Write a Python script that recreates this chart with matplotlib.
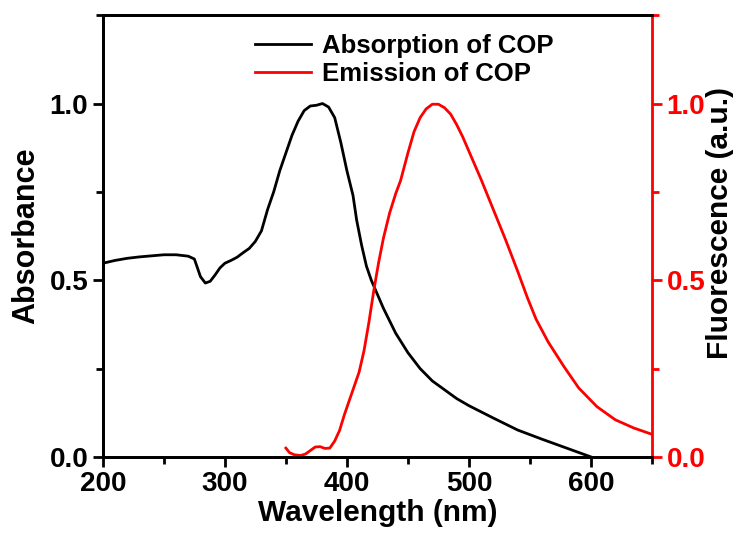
import matplotlib.pyplot as plt
from matplotlib.ticker import MultipleLocator

# absorption spectrum (black, left axis)
abs_wl = [200, 210, 220, 230, 240, 250, 260, 270, 275, 280, 284, 288, 292, 296,
          300, 305, 310, 315, 320, 325, 330, 335, 340, 345, 350, 355, 360, 365,
          370, 375, 380, 385, 390, 395, 400, 405, 408, 412, 416, 420, 425, 430,
          440, 450, 460, 470, 480, 490, 500, 520, 540, 560, 580, 600]
abs_val = [0.548, 0.556, 0.562, 0.566, 0.569, 0.572, 0.572, 0.568, 0.56, 0.51,
           0.492, 0.497, 0.515, 0.535, 0.548, 0.556, 0.565, 0.578, 0.59, 0.61,
           0.64, 0.70, 0.75, 0.81, 0.86, 0.91, 0.95, 0.98, 0.993, 0.995, 1.0,
           0.99, 0.96, 0.89, 0.81, 0.74, 0.67, 0.60, 0.54, 0.50, 0.46, 0.42,
           0.35, 0.295, 0.25, 0.215, 0.19, 0.165, 0.145, 0.11, 0.076, 0.05,
           0.025, 0.0]

# emission spectrum (red, right axis)
em_wl = [350, 353, 357, 362, 366, 370, 374, 378, 382, 386, 390, 394, 398, 403,
         406, 410, 414, 418, 422, 426, 430, 435, 440, 444, 450, 455, 460, 465,
         470, 475, 480, 485, 490, 495, 500, 510, 520, 530, 540, 548, 555, 565,
         578, 590, 605, 620, 635, 650]
em_val = [0.025, 0.012, 0.006, 0.004, 0.008, 0.018, 0.028, 0.029, 0.024, 0.025,
          0.045, 0.075, 0.12, 0.17, 0.20, 0.24, 0.30, 0.38, 0.47, 0.55, 0.62,
          0.69, 0.745, 0.782, 0.86, 0.92, 0.96, 0.985, 0.998, 0.998, 0.988,
          0.97, 0.94, 0.905, 0.865, 0.785, 0.70, 0.615, 0.525, 0.45, 0.39,
          0.325, 0.255, 0.195, 0.142, 0.105, 0.082, 0.064]

plt.rcParams['font.family'] = ['Liberation Sans', 'DejaVu Sans']
plt.rcParams['font.weight'] = 'bold'

fig = plt.figure(figsize=(7.4, 5.42), dpi=100)
ax = fig.add_axes([0.139, 0.157, 0.742, 0.815])
ax2 = ax.twinx()

l1, = ax.plot(abs_wl, abs_val, color='black', lw=2.0, label='Absorption of COP')
l2, = ax2.plot(em_wl, em_val, color='red', lw=2.0, label='Emission of COP')

ax.set_xlim(200, 650)
ax.set_ylim(0, 1.25)
ax2.set_ylim(0, 1.25)

ax.xaxis.set_major_locator(MultipleLocator(100))
ax.xaxis.set_minor_locator(MultipleLocator(50))
for a in (ax, ax2):
    a.yaxis.set_major_locator(MultipleLocator(0.5))
    a.yaxis.set_minor_locator(MultipleLocator(0.25))

ax.tick_params(which='both', direction='out', width=2, labelsize=20,
               top=False, right=False)
ax.tick_params(which='major', length=7)
ax.tick_params(which='minor', length=5)
ax2.tick_params(which='both', direction='out', width=2, labelsize=20,
                colors='red')
ax2.tick_params(which='major', length=7)
ax2.tick_params(which='minor', length=5)

for lab in ax.get_xticklabels() + ax.get_yticklabels() + ax2.get_yticklabels():
    lab.set_fontweight('bold')

for s in ax.spines.values():
    s.set_linewidth(2)
for s in ax2.spines.values():
    s.set_linewidth(2)
ax2.spines['right'].set_color('red')
ax.spines['right'].set_visible(False)

ax.set_xlabel('Wavelength (nm)', fontsize=21.5, fontweight='bold', labelpad=1)
ax.set_ylabel('Absorbance', fontsize=22, fontweight='bold', labelpad=6)
ax2.set_ylabel('Fluorescence (a.u.)', fontsize=21.5, fontweight='bold')
ax2.yaxis.set_label_coords(1.098, 0.53)

leg = ax.legend(handles=[l1, l2], loc='upper left', bbox_to_anchor=(0.258, 0.98),
                frameon=False, fontsize=18.5, handlelength=2.2, handletextpad=0.4,
                labelspacing=0.15, borderaxespad=0)
for t in leg.get_texts():
    t.set_fontweight('bold')

fig.savefig('out.png', dpi=100)
